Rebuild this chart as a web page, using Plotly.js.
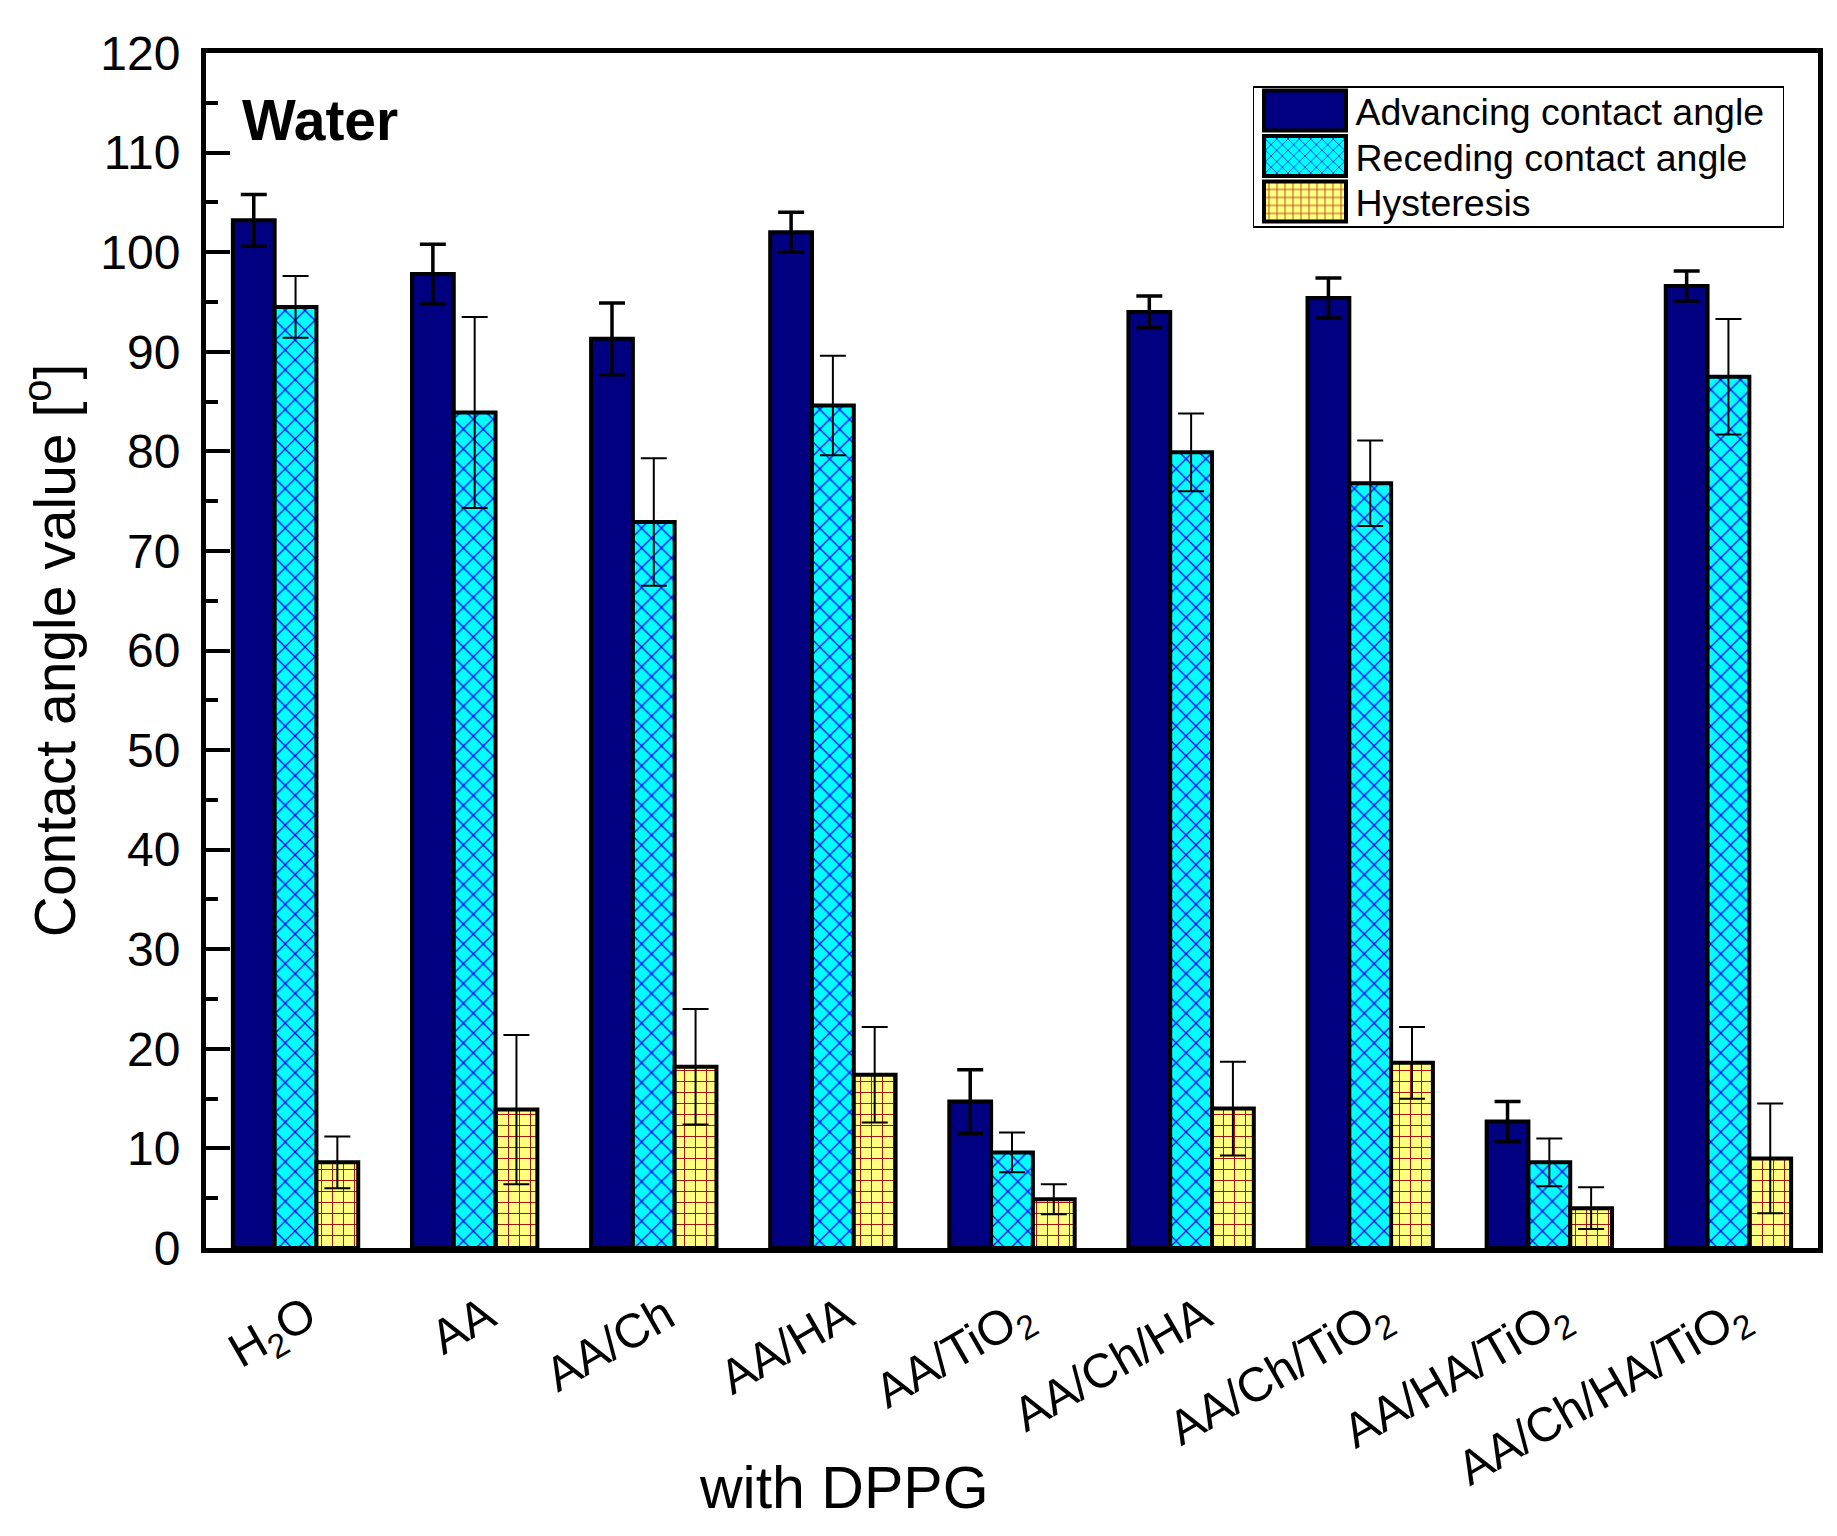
<!DOCTYPE html>
<html>
<head>
<meta charset="utf-8">
<script src="https://cdn.plot.ly/plotly-3.0.1.min.js"></script>
<style>
  html, body { margin: 0; padding: 0; background: #ffffff; }
  #chart { width: 1837px; height: 1536px; }
</style>
</head>
<body>
<div id="chart"></div>
<script>
// ---- data ----
var categories = ['H<sub>2</sub>O', 'AA', 'AA/Ch', 'AA/HA', 'AA/TiO<sub>2</sub>',
                  'AA/Ch/HA', 'AA/Ch/TiO<sub>2</sub>', 'AA/HA/TiO<sub>2</sub>', 'AA/Ch/HA/TiO<sub>2</sub>'];
var advancing     = [103.2, 97.8, 91.3, 102.0, 14.7, 94.0, 95.4, 12.7, 96.6];
var advancingErr  = [2.6, 3.0, 3.6, 2.0, 3.2, 1.6, 2.0, 2.0, 1.5];
var receding      = [94.5, 83.9, 72.9, 84.6, 9.6, 79.9, 76.8, 8.6, 87.5];
var recedingErr   = [3.1, 9.6, 6.4, 5.0, 2.0, 3.9, 4.3, 2.4, 5.8];
var hysteresis    = [8.6, 13.9, 18.2, 17.4, 4.9, 14.0, 18.6, 4.0, 9.0];
var hysteresisErr = [2.6, 7.5, 5.8, 4.8, 1.5, 4.7, 3.6, 2.1, 5.5];
var seriesNames   = ['Advancing contact angle', 'Receding contact angle', 'Hysteresis'];
var yTickValues   = [0, 10, 20, 30, 40, 50, 60, 70, 80, 90, 100, 110, 120];

var FONT = 'Liberation Sans, Arial, Helvetica, sans-serif';

var traceAdv = {
  type: 'bar', name: seriesNames[0], x: categories, y: advancing,
  marker: { color: '#000080', line: { color: '#000000', width: 4 } },
  error_y: { type: 'data', array: advancingErr, visible: true, color: '#000000', thickness: 3.5, width: 13 }
};
var traceRec = {
  type: 'bar', name: seriesNames[1], x: categories, y: receding,
  marker: { color: '#00FFFF', line: { color: '#000000', width: 4 },
            pattern: { shape: 'x', fgcolor: '#0000FF', bgcolor: '#00FFFF', size: 14, solidity: 0.17 } },
  error_y: { type: 'data', array: recedingErr, visible: true, color: '#000000', thickness: 2, width: 13 }
};
var traceHys = {
  type: 'bar', name: seriesNames[2], x: categories, y: hysteresis,
  marker: { color: '#FFFF80', line: { color: '#000000', width: 4 },
            pattern: { shape: '+', fgcolor: '#A00000', bgcolor: '#FFFF80', size: 11, solidity: 0.16 } },
  error_y: { type: 'data', array: hysteresisErr, visible: true, color: '#000000', thickness: 2, width: 13 }
};

var layout = {
  width: 1837, height: 1536,
  margin: { l: 206, r: 19, t: 53, b: 288 },
  paper_bgcolor: '#ffffff', plot_bgcolor: '#ffffff',
  font: { family: FONT, color: '#000000', size: 48 },
  barmode: 'group', bargap: 0.30, bargroupgap: 0,
  showlegend: true,
  legend: {
    x: 0.6495, y: 0.972, xanchor: 'left', yanchor: 'top',
    bgcolor: '#ffffff', bordercolor: '#000000', borderwidth: 1.5,
    font: { family: FONT, size: 37.5, color: '#000000' },
    itemwidth: 91, traceorder: 'normal'
  },
  xaxis: {
    type: 'category', range: [-0.5, 8.5],
    showline: true, linecolor: '#000000', linewidth: 5, mirror: true,
    ticks: '', showgrid: false, zeroline: false,
    tickangle: -30, tickfont: { family: FONT, size: 48 },
    ticklabelstandoff: 16, ticklabelshift: 12
  },
  yaxis: {
    range: [0, 120], tickvals: yTickValues, ticktext: yTickValues.map(String),
    showline: true, linecolor: '#000000', linewidth: 5, mirror: true,
    ticks: 'inside', ticklen: 24, tickwidth: 4, tickcolor: '#000000',
    minor: { dtick: 5, ticks: 'inside', ticklen: 12, tickwidth: 4, tickcolor: '#000000' },
    showgrid: false, zeroline: false,
    tickfont: { family: FONT, size: 48 },
    ticklabelstandoff: 11,
    title: { text: 'Contact angle value [<sup>o</sup>]', font: { family: FONT, size: 57 }, standoff: 8 }
  },
  annotations: [
    { text: '<b>Water</b>', xref: 'paper', yref: 'paper', x: 0.021, y: 0.944,
      xanchor: 'left', yanchor: 'middle', showarrow: false,
      font: { family: FONT, size: 57, color: '#000000' } },
    { text: 'with DPPG', xref: 'paper', yref: 'paper', x: 0.396, y: -0.2008,
      xanchor: 'center', yanchor: 'middle', showarrow: false,
      font: { family: FONT, size: 59, color: '#000000' } }
  ]
};

Plotly.newPlot('chart', [traceAdv, traceRec, traceHys], layout, { staticPlot: true }).then(function (gd) {
  var leg = gd.querySelector('.legend');
  if (!leg) return;
  // wide swatches like the reference legend
  leg.querySelectorAll('.legendpoints path').forEach(function (p) {
    p.setAttribute('d', 'M41,20H-41V-20H41Z');
  });
  // tighter row pitch
  var items = leg.querySelectorAll('g.traces');
  items.forEach(function (g, i) {
    var t = g.getAttribute('transform') || '';
    var m = t.match(/translate\(\s*([-\d.]+)[ ,]+([-\d.]+)\s*\)/);
    var tx = m ? parseFloat(m[1]) : 0;
    g.setAttribute('transform', 'translate(' + tx + ',' + (24 + i * 45.5) + ')');
  });
  var bg = leg.querySelector('rect.bg');
  if (bg) { bg.setAttribute('height', 140); bg.setAttribute('width', 530); }
});
</script>
</body>
</html>
